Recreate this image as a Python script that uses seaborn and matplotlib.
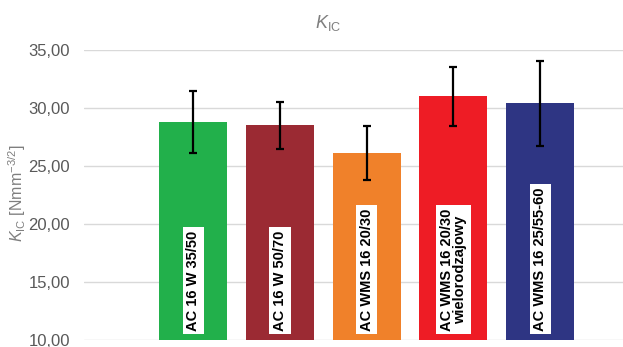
import matplotlib
matplotlib.use("Agg")
import matplotlib.pyplot as plt
import seaborn as sns
import pandas as pd

# Mixtures, mean fracture toughness K_IC and its standard deviation
mixtures = ["AC 16 W 35/50", "AC 16 W 50/70", "AC WMS 16 20/30",
            "AC WMS 16 20/30\nwielorodzajowy", "AC WMS 16 25/55-60"]
kic_mean = [28.8, 28.5, 26.1, 31.0, 30.4]
kic_sd = [2.7, 2.05, 2.3, 2.55, 3.65]
bar_colors = ["#22B04B", "#9B2A33", "#F0812A", "#EE1C25", "#2E3583"]
y_ticks = [10, 15, 20, 25, 30, 35]

sns.set_theme(style="white")
plt.rcParams["font.family"] = ["Liberation Sans", "DejaVu Sans"]
plt.rcParams["mathtext.fontset"] = "custom"
plt.rcParams["mathtext.rm"] = "Liberation Sans"
plt.rcParams["mathtext.it"] = "Liberation Sans:italic"

df = pd.DataFrame({"mix": mixtures, "kic": kic_mean})

fig = plt.figure(figsize=(6.23, 3.47), dpi=100)
ax = fig.add_axes([0.1348, 0.0216, 0.8652, 0.8343])

sns.barplot(data=df, x="mix", y="kic", hue="mix", palette=bar_colors,
            errorbar=None, width=0.785, legend=False, ax=ax,
            saturation=1.0, linewidth=0)

ax.errorbar(range(len(mixtures)), kic_mean, yerr=kic_sd, fmt="none",
            ecolor="black", elinewidth=1.6, capsize=2.6, capthick=1.6, zorder=4)

for i, name in enumerate(mixtures):
    ax.text(i, 10.75, name, rotation=90, ha="center", va="bottom",
            fontsize=10.5, fontweight="bold", color="black",
            multialignment="center", linespacing=0.95, zorder=5,
            bbox=dict(boxstyle="square,pad=0.25", facecolor="white",
                      edgecolor="none"))

ax.set_ylim(10, 35)
ax.set_xlim(-1.26, 4.955)
ax.set_yticks(y_ticks)
ax.set_yticklabels([f"{v:.2f}".replace(".", ",") for v in y_ticks],
                   fontsize=12, color="#595959")
ax.set_xticks([])
ax.set_xlabel("")
ax.tick_params(axis="y", length=0, pad=10)
ax.yaxis.grid(True, color="#D9D9D9", linewidth=1)
ax.set_axisbelow(True)
for s in ax.spines.values():
    s.set_visible(False)

ax.set_ylabel(r"$K_{\mathrm{IC}}$ [Nmm$^{-3/2}$]", fontsize=11.5,
              color="#7F7F7F")
ax.yaxis.set_label_coords(-0.104, 0.506)
fig.text(0.527, 0.935, r"$K_{\mathrm{IC}}$", ha="center", va="center",
         fontsize=13, color="#7F7F7F")

fig.savefig("out.png", dpi=100)
